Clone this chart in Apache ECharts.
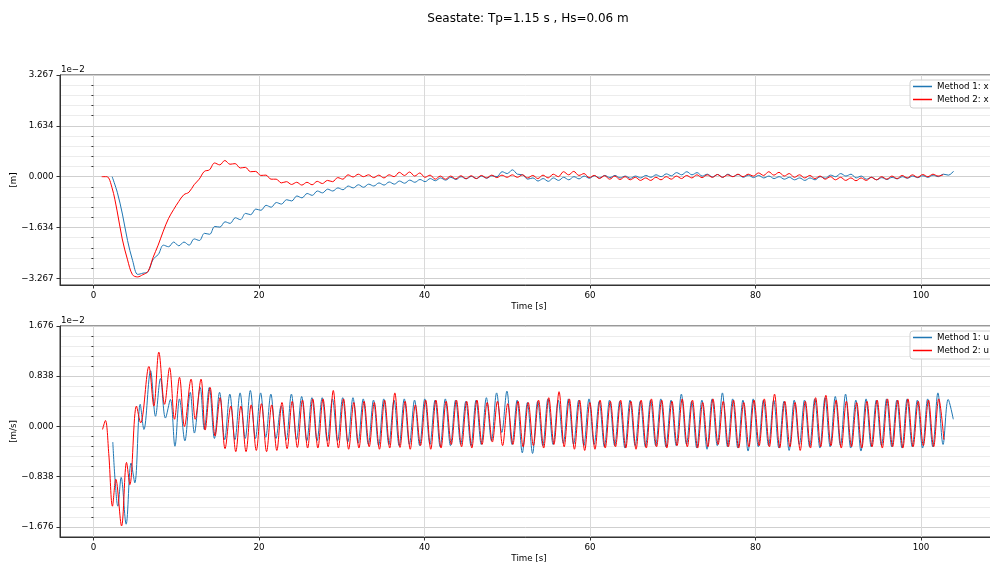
<!DOCTYPE html>
<html>
<head>
<meta charset="utf-8">
<script src="https://cdn.jsdelivr.net/npm/echarts@6/dist/echarts.min.js"></script>
<style>
html, body { margin: 0; padding: 0; background: #fff; }
#chart { width: 990px; height: 565px; }
</style>
</head>
<body>
<div id="chart"></div>
<script>
const dt = 0.62;

const xTicks = [0, 20, 40, 60, 80, 100];
const posTicks = [-3.267, -1.634, 0, 1.634, 3.267];   // x 1e-2 m
const velTicks = [-1.676, -0.838, 0, 0.838, 1.676];   // x 1e-2 m/s

// Method 1: x  (1e-2 m)
const x1Start = 2.26;
const x1 = [
  0, -0.5, -1.2, -2.05, -2.7, -3.14, -3.1, -3.05, -2.65, -2.5,
  -2.2, -2.25, -2.1, -2.22, -2.1, -2.2, -2.0, -2.05, -1.82, -1.85,
  -1.6, -1.62, -1.45, -1.5, -1.32, -1.38, -1.18, -1.22, -1.04, -1.08,
  -0.92, -0.98, -0.83, -0.88, -0.74, -0.78, -0.62, -0.68, -0.54, -0.6,
  -0.46, -0.52, -0.4, -0.46, -0.36, -0.42, -0.3, -0.36, -0.26, -0.34,
  -0.24, -0.3, -0.2, -0.27, -0.17, -0.24, -0.14, -0.21, -0.11, -0.18,
  -0.09, -0.16, -0.06, -0.13, -0.04, -0.11, -0.02, -0.09, 0.0, -0.07,
  0.01, -0.06, 0.02, -0.05, 0.03, 0.0, 0.16, 0.1, 0.22, 0.08,
  0.06, -0.08, -0.04, -0.14, -0.06, -0.15, -0.04, -0.12, -0.02, -0.1,
  0.0, -0.07, 0.02, -0.05, 0.03, -0.04, 0.04, -0.03, 0.04, -0.04,
  0.02, -0.05, 0.02, -0.04, 0.04, -0.02, 0.06, 0.0, 0.09, 0.03,
  0.13, 0.06, 0.16, 0.06, 0.13, 0.02, 0.08, -0.01, 0.07, -0.02,
  0.08, 0.0, 0.07, -0.02, 0.05, -0.03, 0.04, -0.04, 0.02, -0.06,
  0.0, -0.08, -0.02, -0.1, -0.04, -0.12, -0.04, -0.1, 0.0, -0.05,
  0.05, 0.0, 0.1, 0.02, 0.08, -0.04, 0.02, -0.08, -0.02, -0.1,
  -0.03, -0.09, -0.02, -0.07, 0.0, -0.05, 0.02, -0.03, 0.03, -0.02,
  0.05, 0.0, 0.08, 0.05, 0.18
];

// Method 2: x  (1e-2 m)
const x2Start = 1.0;
const x2 = [
  0, 0, -0.35, -1.1, -2.0, -2.65, -3.15, -3.22, -3.15, -3.05,
  -2.6, -2.2, -1.75, -1.35, -1.06, -0.8, -0.58, -0.5, -0.26, -0.08,
  0.17, 0.22, 0.44, 0.38, 0.52, 0.4, 0.42, 0.28, 0.3, 0.16,
  0.17, 0.04, 0.05, -0.08, -0.08, -0.2, -0.16, -0.25, -0.18, -0.27,
  -0.18, -0.26, -0.15, -0.22, -0.12, -0.16, -0.03, -0.08, 0.06, -0.01,
  0.08, 0.0, 0.06, -0.03, 0.05, -0.04, 0.06, 0.0, 0.14, 0.04,
  0.15, 0.02, 0.12, -0.02, 0.05, -0.08, 0.02, -0.08, 0.02, -0.07,
  0.03, -0.06, 0.03, -0.06, 0.04, -0.04, 0.05, -0.03, 0.05, -0.02,
  0.06, -0.02, 0.06, -0.04, 0.04, -0.06, 0.05, -0.04, 0.08, 0.0,
  0.16, 0.06, 0.17, 0.04, 0.1, -0.03, 0.04, -0.06, 0.03, -0.08,
  0.02, -0.09, 0.0, -0.1, -0.02, -0.12, -0.04, -0.12, -0.02, -0.1,
  0.0, -0.08, 0.02, -0.06, 0.04, -0.04, 0.06, -0.03, 0.06, -0.02,
  0.07, -0.02, 0.06, 0.0, 0.08, 0.0, 0.08, 0.02, 0.12, 0.04,
  0.16, 0.05, 0.14, 0.02, 0.1, -0.02, 0.06, -0.04, 0.04, -0.06,
  0.02, -0.08, 0.0, -0.1, -0.02, -0.12, -0.04, -0.13, -0.04, -0.12,
  -0.02, -0.1, 0.0, -0.08, 0.02, -0.06, 0.04, -0.04, 0.06, -0.02,
  0.07, 0.0, 0.08, 0.02, 0.06
];

// Method 1: u  (1e-2 m/s), start-up transient then the steady part
const u1EarlyT = [2.34, 2.62, 2.95, 3.35, 3.95, 4.55, 5.0, 5.65, 6.1, 6.9, 7.5,
  8.1, 8.7, 9.3, 9.85, 10.4, 11.05, 11.7, 12.2, 12.9, 13.4];
const u1EarlyV = [-0.26, -0.9, -1.33, -0.85, -1.63, -0.61, -0.94, 0.37, -0.05, 0.93, 0.17,
  0.8, 0.14, 0.45, -0.33, 0.46, -0.24, 0.57, -0.11, 0.65, -0.05];
const u1Start = 14.0;
const u1 = [
  0.65, -0.2, 0.57, -0.22, 0.54, -0.22, 0.56, -0.2, 0.6, -0.2,
  0.56, -0.18, 0.54, -0.2, 0.34, -0.22, 0.54, -0.22, 0.5, -0.24,
  0.48, -0.24, 0.48, -0.24, 0.46, -0.24, 0.48, -0.26, 0.48, -0.28,
  0.46, -0.3, 0.44, -0.32, 0.46, -0.3, 0.44, -0.32, 0.46, -0.3,
  0.44, -0.32, 0.46, -0.3, 0.44, -0.34, 0.46, -0.32, 0.44, -0.3,
  0.42, -0.32, 0.44, -0.3, 0.48, -0.24, 0.56, -0.1, 0.59, -0.3,
  0.44, -0.44, 0.4, -0.45, 0.42, -0.32, 0.46, -0.3, 0.44, -0.28,
  0.46, -0.3, 0.44, -0.32, 0.46, -0.3, 0.42, -0.34, 0.44, -0.32,
  0.42, -0.36, 0.44, -0.32, 0.42, -0.34, 0.44, -0.32, 0.46, -0.34,
  0.44, -0.32, 0.54, -0.3, 0.42, -0.36, 0.44, -0.38, 0.46, -0.32,
  0.56, -0.34, 0.46, -0.36, 0.44, -0.41, 0.46, -0.34, 0.44, -0.32,
  0.44, -0.36, 0.42, -0.4, 0.44, -0.3, 0.44, -0.34, 0.46, -0.36,
  0.48, -0.34, 0.5, -0.32, 0.54, -0.36, 0.44, -0.41, 0.46, -0.34,
  0.44, -0.32, 0.46, -0.34, 0.44, -0.36, 0.46, -0.34, 0.44, -0.36,
  0.46, -0.34, 0.56, -0.3, 0.45, 0.12
];

// Method 2: u  (1e-2 m/s)
const u2EarlyT = [1.1, 1.45, 1.85, 2.3, 2.7, 3.4, 4.0, 4.4, 5.2, 5.7, 6.7, 7.3, 7.9, 8.6,
  9.2, 9.8, 10.4, 11.0, 11.8, 12.3, 13.0, 13.5, 14.1, 14.7, 15.3, 15.9, 16.6];
const u2EarlyV = [-0.05, 0.1, -0.45, -1.33, -0.88, -1.66, -0.6, -0.97, 0.34, 0.06, 1.0, 0.34, 1.24, 0.37,
  0.98, 0.12, 0.82, 0.0, 0.79, 0.12, 0.79, -0.06, 0.65, -0.16, 0.48, -0.37, 0.34];
const u2Start = 17.2;
const u2 = [
  -0.42, 0.34, -0.42, 0.36, -0.4, 0.38, -0.42, 0.36, -0.4, 0.4,
  -0.37, 0.42, -0.35, 0.44, -0.36, 0.46, -0.36, 0.46, -0.34, 0.6,
  -0.36, 0.46, -0.38, 0.4, -0.36, 0.42, -0.34, 0.4, -0.38, 0.44,
  -0.36, 0.56, -0.35, 0.42, -0.38, 0.36, -0.32, 0.44, -0.38, 0.44,
  -0.36, 0.42, -0.3, 0.44, -0.34, 0.42, -0.36, 0.44, -0.3, 0.4,
  -0.26, 0.42, -0.32, 0.38, -0.3, 0.42, -0.34, 0.4, -0.32, 0.44,
  -0.36, 0.48, -0.3, 0.58, -0.34, 0.46, -0.38, 0.44, -0.4, 0.4,
  -0.38, 0.44, -0.36, 0.42, -0.34, 0.44, -0.36, 0.42, -0.38, 0.44,
  -0.36, 0.46, -0.34, 0.44, -0.36, 0.42, -0.32, 0.46, -0.34, 0.44,
  -0.36, 0.4, -0.34, 0.46, -0.3, 0.42, -0.34, 0.44, -0.36, 0.4,
  -0.34, 0.44, -0.32, 0.46, -0.34, 0.54, -0.36, 0.42, -0.34, 0.4,
  -0.4, 0.42, -0.36, 0.48, -0.34, 0.52, -0.32, 0.44, -0.36, 0.42,
  -0.34, 0.4, -0.36, 0.42, -0.34, 0.44, -0.36, 0.46, -0.34, 0.44,
  -0.36, 0.46, -0.34, 0.42, -0.32, 0.44, -0.34, 0.46, -0.22
];

function toPoints(start, vals, earlyT, earlyV) {
  const out = [];
  if (earlyT) earlyT.forEach((t, i) => out.push([t, earlyV[i]]));
  vals.forEach((v, i) => out.push([+(start + i * dt).toFixed(3), v]));
  return out;
}

// minor grid positions: 5 subdivisions between major ticks
function minorOf(ticks) {
  const out = [];
  for (let i = 0; i < ticks.length - 1; i++) {
    const step = (ticks[i + 1] - ticks[i]) / 5;
    for (let k = 1; k < 5; k++) out.push(+(ticks[i] + k * step).toFixed(4));
  }
  return out;
}

const BLUE = '#1f77b4';
const RED = '#ff0000';
const FONT = 'DejaVu Sans';
const SMALL = 8.7;
const fmt = v => v.toFixed(3).replace('-', '\u2212');

function xAxisFor(gi) {
  return {
    type: 'value', gridIndex: gi, min: -4.04, max: 109.3,
    name: 'Time [s]', nameLocation: 'middle', nameGap: 17, nameMoveOverlap: false,
    nameTextStyle: { fontFamily: FONT, fontSize: SMALL, color: '#000' },
    axisLine: { show: true, onZero: false, lineStyle: { color: '#333', width: 1 } },
    axisTick: { show: true, customValues: xTicks, length: 3.5, lineStyle: { color: '#333' } },
    axisLabel: { customValues: xTicks, fontFamily: FONT, fontSize: SMALL, color: '#000', margin: 6 },
    splitLine: { show: true, lineStyle: { color: '#d9d9d9', width: 1 } }
  };
}

function yAxesFor(gi, min, max, ticks, name) {
  return [{
    type: 'value', gridIndex: gi, position: 'left', min: min, max: max,
    name: name, nameLocation: 'middle', nameGap: 42, nameMoveOverlap: false,
    nameTextStyle: { fontFamily: FONT, fontSize: SMALL, color: '#000' },
    axisLine: { show: true, onZero: false, lineStyle: { color: '#333', width: 1 } },
    axisTick: { show: true, customValues: ticks, length: 3.5, lineStyle: { color: '#333' } },
    axisLabel: { customValues: ticks, formatter: fmt, fontFamily: FONT, fontSize: SMALL, color: '#000', margin: 6.5 },
    splitLine: { show: true, lineStyle: { color: '#cfcfcf', width: 1 } }
  }, {
    type: 'value', gridIndex: gi, position: 'left', min: min, max: max,
    axisLine: { show: false },
    axisTick: { show: true, customValues: minorOf(ticks), length: 2, lineStyle: { color: '#333' } },
    axisLabel: { show: false },
    splitLine: { show: true, lineStyle: { color: '#ececec', width: 1 } }
  }];
}

function lineSeries(name, xi, yi, data, color) {
  return {
    name: name, type: 'line', xAxisIndex: xi, yAxisIndex: yi,
    data: data, showSymbol: false, symbol: 'none', smooth: 0.35,
    lineStyle: { color: color, width: 1 }, itemStyle: { color: color }
  };
}

function legendFor(top, names) {
  return {
    data: names, orient: 'vertical', left: 910, top: top,
    icon: 'rect', itemWidth: 19, itemHeight: 1.5, itemGap: 4, itemTextGap: 6,
    padding: [2, 5, 4, 3], backgroundColor: 'rgba(255,255,255,0.85)',
    borderColor: '#d0d0d0', borderWidth: 1, borderRadius: 3,
    textStyle: { fontFamily: FONT, fontSize: SMALL, color: '#000' }
  };
}

const chart = echarts.init(document.getElementById('chart'), null, { renderer: 'canvas' });
chart.setOption({
  animation: false,
  backgroundColor: '#fff',
  textStyle: { fontFamily: FONT },
  grid: [
    { left: 60, right: -8, top: 75, height: 210, show: true, borderColor: '#333', borderWidth: 1, outerBoundsMode: 'none' },
    { left: 60, right: -8, top: 326, height: 211, show: true, borderColor: '#333', borderWidth: 1, outerBoundsMode: 'none' }
  ],
  graphic: [
    { type: 'text', x: 528, y: 19, style: { text: 'Seastate: Tp=1.15 s , Hs=0.06 m', font: '12px DejaVu Sans', fill: '#000', align: 'center', verticalAlign: 'middle' } },
    { type: 'text', x: 61, y: 70, style: { text: '1e\u22122', font: SMALL + 'px DejaVu Sans', fill: '#000', align: 'left', verticalAlign: 'middle' } },
    { type: 'text', x: 61, y: 321, style: { text: '1e\u22122', font: SMALL + 'px DejaVu Sans', fill: '#000', align: 'left', verticalAlign: 'middle' } }
  ],
  legend: [
    legendFor(80, ['Method 1: x', 'Method 2: x']),
    legendFor(331, ['Method 1: u', 'Method 2: u'])
  ],
  xAxis: [xAxisFor(0), xAxisFor(1)],
  yAxis: [].concat(
    yAxesFor(0, -3.48, 3.267, posTicks, '[m]'),
    yAxesFor(1, -1.844, 1.676, velTicks, '[m/s]')
  ),
  series: [
    lineSeries('Method 1: x', 0, 0, toPoints(x1Start, x1), BLUE),
    lineSeries('Method 2: x', 0, 0, toPoints(x2Start, x2), RED),
    lineSeries('Method 1: u', 1, 2, toPoints(u1Start, u1, u1EarlyT, u1EarlyV), BLUE),
    lineSeries('Method 2: u', 1, 2, toPoints(u2Start, u2, u2EarlyT, u2EarlyV), RED)
  ]
});
</script>
</body>
</html>
